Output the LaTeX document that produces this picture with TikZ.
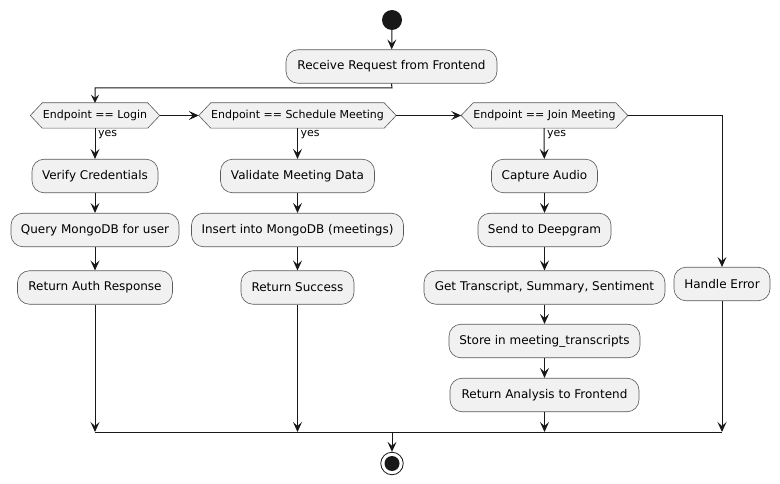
\documentclass[tikz,border=0pt]{standalone}
\usepackage{fontspec}
\setmainfont{DejaVu Sans}
\usetikzlibrary{arrows.meta,calc,backgrounds}
\definecolor{boxfill}{HTML}{F1F1F1}
\definecolor{ln}{HTML}{181818}
\definecolor{bd}{HTML}{5A5A5A}
\begin{document}
\begin{tikzpicture}[x=1pt,y=-1pt,
  act/.style={draw=bd, line width=0.6pt, fill=boxfill, rounded corners=12pt,
    minimum height=33.5pt, inner sep=0pt, font=\fontsize{12}{14}\selectfont, text=black},
  hexa/.style={minimum height=25pt, inner sep=0pt, font=\fontsize{11}{13}\selectfont, text=black},
  hexline/.style={draw=bd, line width=0.6pt, fill=boxfill},
  arr/.style={draw=ln, line width=1pt, -{Stealth[length=10pt,width=9pt,inset=4pt]}},
  arrs/.style={draw=ln, line width=1pt, -{Stealth[length=8pt,width=8pt,inset=3pt]}},
  ln1/.style={draw=ln, line width=1pt},
  lbl/.style={font=\fontsize{11}{13}\selectfont, text=black, inner sep=0pt, anchor=west}]
\useasboundingbox (0,0) rectangle (780,484);
\begin{scope}[on background layer]
\fill[white] (0,0) rectangle (780,484);
\end{scope}

% start / end
\node[circle, fill=ln, minimum size=20pt, inner sep=0pt] (start) at (392,20) {};
\node[circle, draw=ln, line width=0.8pt, fill=white, minimum size=22.5pt, inner sep=0pt] (end) at (392,463.5) {};
\fill[ln] (end.center) circle (7.5pt);

% activities
\node[act, minimum width=211pt] (recv) at (391.5,66.5) {Receive Request from Frontend};

\node[hexa, minimum width=105pt] (d1) at (95,115.5) {Endpoint == Login};
\node[hexa, minimum width=173pt] (d2) at (297.5,115.5) {Endpoint == Schedule Meeting};
\node[hexa, minimum width=141.6pt] (d3) at (544.5,115.5) {Endpoint == Join Meeting};
\begin{scope}[on background layer]
\foreach \n in {d1,d2,d3}
  \draw[hexline] (\n.north west) -- (\n.north east) -- ([xshift=12pt]\n.east) -- (\n.south east) -- (\n.south west) -- ([xshift=-12pt]\n.west) -- cycle;
\end{scope}
\coordinate (d1r) at ([xshift=12pt]d1.east);
\coordinate (d2l) at ([xshift=-12pt]d2.west);
\coordinate (d2r) at ([xshift=12pt]d2.east);
\coordinate (d3l) at ([xshift=-12pt]d3.west);
\coordinate (d3r) at ([xshift=12pt]d3.east);

\node[act, minimum width=126pt] (v1) at (95,176) {Verify Credentials};
\node[act, minimum width=168pt] (q1) at (95,230) {Query MongoDB for user};
\node[act, minimum width=155pt] (r1) at (95,287.5) {Return Auth Response};

\node[act, minimum width=154pt] (v2) at (297.5,176) {Validate Meeting Data};
\node[act, minimum width=212pt] (i2) at (297.5,230) {Insert into MongoDB (meetings)};
\node[act, minimum width=113pt] (s2) at (297.5,287.5) {Return Success};

\node[act, minimum width=106pt] (ca) at (544.5,176) {Capture Audio};
\node[act, minimum width=133pt] (sd) at (544.5,230) {Send to Deepgram};
\node[act, minimum width=241pt] (gt) at (544.5,287.5) {Get Transcript, Summary, Sentiment};
\node[act, minimum width=191pt] (st) at (544.5,341) {Store in meeting\_transcripts};
\node[act, minimum width=189pt] (ra) at (544.5,395) {Return Analysis to Frontend};

\node[act, minimum width=96pt] (he) at (722,284) {Handle Error};

% connectors
\draw[arr] (start) -- (recv);
\coordinate (bend) at (392,88);
\draw[arrs] (recv.south) -- (bend) -| (d1.north);
\draw[arr] (d1r) -- (d2l);
\draw[arr] (d2r) -- (d3l);
\draw[arr] (d3r) -| (he.north);

\draw[arr] (d1.south) -- (v1);
\draw[arr] (v1) -- (q1);
\draw[arr] (q1) -- (r1);
\draw[arr] (d2.south) -- (v2);
\draw[arr] (v2) -- (i2);
\draw[arr] (i2) -- (s2);
\draw[arr] ([xshift=-0.5pt]d3.south) -- (ca);
\draw[arr] (ca) -- (sd);
\draw[arr] (sd) -- (gt);
\draw[arr] (gt) -- (st);
\draw[arr] (st) -- (ra);

\node[lbl] (y1) at (98,135) {yes};
\node[lbl] (y2) at (300.5,135) {yes};
\node[lbl] (y3) at (547,135) {yes};

\coordinate (m) at (392,432);
\draw[arr] (r1) -- (r1 |- m);
\draw[arr] (s2) -- (s2 |- m);
\draw[arr] (ra) -- (ra |- m);
\draw[arr] (he) -- (he |- m);
\draw[ln1] (r1 |- m) -- (he |- m);
\draw[arr] (m) -- (end);
\end{tikzpicture}
\end{document}
